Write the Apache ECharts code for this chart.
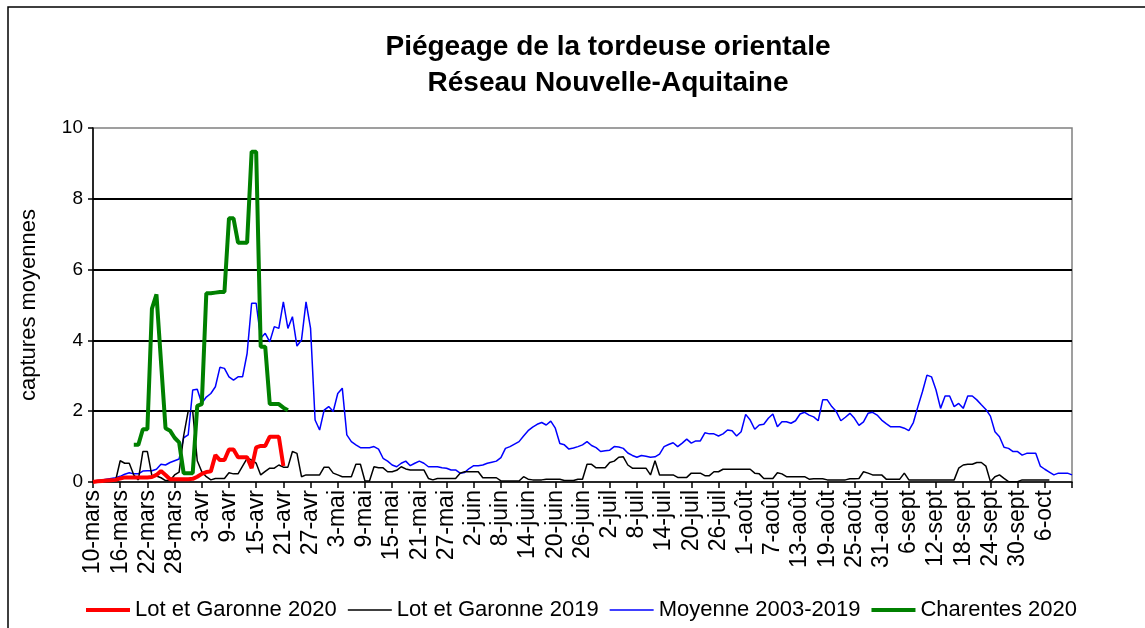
<!DOCTYPE html>
<html>
<head>
<meta charset="utf-8">
<script src="https://cdn.jsdelivr.net/npm/echarts@6/dist/echarts.min.js"></script>
<style>
html,body{margin:0;padding:0;background:#fff;}
#c{width:1145px;height:628px;}
</style>
</head>
<body>
<div id="c"></div>
<script>
// Month names and lengths used to build the daily category labels (10-mars .. 12-oct)
const months = ['mars','avr','mai','juin','juil','août','sept','oct'];
const monthDays = [31,30,31,30,31,31,30,31];
const startDay = 10;
const nDays = 217;

const seriesNames = ['Lot et Garonne 2020','Lot et Garonne 2019','Moyenne 2003-2019','Charentes 2020'];

const lotGaronne2020 = [
  0,0.02,0.03,0.04,0.05,0.06,0.1,0.13,0.13,0.13,
  0.13,0.13,0.13,0.14,0.2,0.31,0.2,0.08,0.08,0.08,
  0.08,0.08,0.09,0.15,0.23,0.28,0.3,0.76,0.62,0.62,
  0.92,0.92,0.7,0.7,0.7,0.39,0.98,1.02,1.02,1.28,
  1.28,1.28,0.45
];

const lotGaronne2019 = [
  0,0.02,0.03,0.04,0.05,0.05,0.6,0.53,0.53,0.2,
  0.06,0.86,0.86,0.17,0.17,0.12,0.04,0.04,0.2,0.28,
  1.3,2.0,2.0,0.6,0.29,0.15,0.06,0.1,0.1,0.1,
  0.26,0.23,0.23,0.45,0.67,0.62,0.53,0.2,0.3,0.39,
  0.39,0.48,0.42,0.42,0.86,0.81,0.15,0.2,0.2,0.2,
  0.2,0.42,0.42,0.25,0.2,0.15,0.15,0.15,0.5,0.5,
  0.03,0.03,0.43,0.4,0.4,0.29,0.29,0.33,0.43,0.37,
  0.34,0.34,0.34,0.34,0.1,0.06,0.1,0.1,0.1,0.1,
  0.1,0.25,0.29,0.29,0.29,0.29,0.12,0.12,0.12,0.12,
  0.03,0.03,0.03,0.03,0.03,0.15,0.08,0.06,0.06,0.06,
  0.08,0.08,0.08,0.08,0.04,0.04,0.04,0.08,0.08,0.5,
  0.5,0.4,0.4,0.4,0.55,0.59,0.7,0.71,0.48,0.39,
  0.39,0.39,0.39,0.2,0.6,0.2,0.2,0.2,0.2,0.13,
  0.13,0.13,0.25,0.25,0.25,0.18,0.18,0.29,0.29,0.36,
  0.36,0.36,0.36,0.36,0.36,0.36,0.25,0.23,0.1,0.1,
  0.1,0.26,0.23,0.15,0.15,0.15,0.15,0.15,0.08,0.09,
  0.09,0.09,0.06,0.06,0.06,0.06,0.06,0.09,0.09,0.1,
  0.29,0.25,0.2,0.2,0.2,0.08,0.08,0.08,0.08,0.25,
  0.06,0.06,0.06,0.06,0.06,0.06,0.06,0.06,0.06,0.06,
  0.06,0.39,0.48,0.5,0.5,0.55,0.55,0.45,0.01,0.15,
  0.2,0.1,0.01,0.01,0.01,0.06,0.06,0.06,0.06,0.06,
  0.06,0.06
];

const moyenne2003_2019 = [
  0.02,0.04,0.06,0.08,0.1,0.12,0.16,0.22,0.26,0.23,
  0.23,0.31,0.32,0.32,0.36,0.5,0.48,0.55,0.6,0.65,
  1.25,1.33,2.6,2.62,2.22,2.4,2.5,2.69,3.24,3.21,
  2.97,2.88,2.97,2.97,3.63,5.05,5.05,4.06,4.2,3.96,
  4.39,4.34,5.09,4.34,4.67,3.84,4.01,5.09,4.34,1.75,
  1.47,2.03,2.13,1.99,2.5,2.65,1.33,1.14,1.05,0.97,
  0.97,0.97,1.0,0.93,0.67,0.59,0.48,0.43,0.53,0.59,
  0.46,0.53,0.59,0.53,0.43,0.43,0.43,0.4,0.39,0.34,
  0.34,0.25,0.27,0.38,0.46,0.46,0.48,0.53,0.56,0.59,
  0.69,0.95,1.0,1.07,1.14,1.3,1.45,1.55,1.63,1.68,
  1.61,1.72,1.52,1.09,1.05,0.93,0.96,1.0,1.05,1.14,
  1.03,0.97,0.86,0.88,0.9,1.0,0.99,0.95,0.82,0.75,
  0.7,0.75,0.73,0.7,0.71,0.79,1.0,1.06,1.11,1.0,
  1.1,1.21,1.1,1.16,1.16,1.39,1.36,1.36,1.3,1.36,
  1.47,1.45,1.3,1.42,1.91,1.75,1.49,1.61,1.63,1.8,
  1.92,1.56,1.7,1.7,1.66,1.73,1.92,1.97,1.89,1.84,
  1.73,2.32,2.32,2.13,1.99,1.73,1.83,1.94,1.8,1.6,
  1.7,1.94,1.97,1.89,1.75,1.65,1.56,1.56,1.56,1.52,
  1.45,1.68,2.13,2.55,3.02,2.97,2.6,2.08,2.43,2.43,
  2.13,2.22,2.08,2.43,2.43,2.32,2.18,2.05,1.86,1.42,
  1.28,0.98,0.95,0.86,0.86,0.76,0.81,0.81,0.81,0.45,
  0.36,0.28,0.2,0.25,0.25,0.25,0.2
];

const charentes2020 = [
  null,null,null,null,null,null,null,null,null,
  1.05,1.05,1.49,1.49,4.9,5.3,3.4,1.52,1.45,1.25,1.12,
  0.25,0.25,0.25,2.15,2.2,5.33,5.33,5.35,5.37,5.37,
  7.45,7.45,6.76,6.76,6.76,9.33,9.33,3.82,3.82,2.2,
  2.2,2.2,2.1,2.03
];

const yTicks = [0,2,4,6,8,10];

// build daily category labels
const categories = [];
(function(){
  let m = 0, d = startDay;
  for (let i = 0; i < nDays; i++) {
    categories.push(d + '-' + months[m]);
    d++;
    if (d > monthDays[m]) { d = 1; m++; }
  }
})();

const chart = echarts.init(document.getElementById('c'), null, {renderer:'canvas'});
const FONT = 'Liberation Sans, Arial, sans-serif';
const thickIcon = 'path://M0,0L44,0L44,4L0,4Z';
const thinIcon = 'path://M0,0L44,0L44,1.6L0,1.6Z';

chart.setOption({
  animation: false,
  backgroundColor: '#ffffff',
  textStyle: {fontFamily: FONT, color:'#000'},
  title: {
    text: 'Piégeage de la tordeuse orientale\nRéseau Nouvelle-Aquitaine',
    left: 603,
    textAlign: 'center',
    top: 24,
    textStyle: {fontFamily: FONT, fontSize: 28, fontWeight: 'bold', lineHeight: 36, color:'#000'}
  },
  graphic: [{
    type: 'rect',
    shape: {x: 8, y: 7, width: 1300, height: 800},
    style: {fill: 'none', stroke: '#000', lineWidth: 1.5},
    silent: true,
    z: 100
  }],
  legend: {
    bottom: 2,
    left: 81,
    itemWidth: 44,
    itemHeight: 12,
    itemGap: 11,
    textStyle: {fontFamily: FONT, fontSize: 22, color:'#000'},
    data: [
      {name: seriesNames[0], icon: thickIcon},
      {name: seriesNames[1], icon: thinIcon},
      {name: seriesNames[2], icon: thinIcon},
      {name: seriesNames[3], icon: thickIcon}
    ]
  },
  grid: {
    left: 93, right: 73, top: 128, bottom: 146,
    show: true, borderColor: '#808080', borderWidth: 1.5, backgroundColor: 'transparent'
  },
  xAxis: {
    type: 'category',
    data: categories,
    boundaryGap: false,
    axisLine: {lineStyle: {color:'#000', width: 1.5}},
    axisTick: {show: true, interval: 5, length: 6, lineStyle: {color:'#000', width: 1.5}},
    axisLabel: {
      interval: function(i){ return i % 6 === 0 && i < nDays - 1; },
      rotate: 90, fontSize: 23, color: '#000', fontFamily: FONT, margin: 8
    },
    splitLine: {show: false}
  },
  yAxis: {
    type: 'value',
    min: yTicks[0], max: yTicks[yTicks.length-1], interval: 2,
    name: 'captures moyennes',
    nameLocation: 'middle',
    nameRotate: 90,
    nameGap: 53,
    nameTextStyle: {fontSize: 22, color:'#000', fontFamily: FONT},
    axisLine: {show: true, lineStyle: {color:'#000', width: 1.5}},
    axisTick: {show: true, length: 5, lineStyle: {color:'#000', width: 1.5}},
    axisLabel: {fontSize: 19, color:'#000', fontFamily: FONT, margin: 10},
    splitLine: {show: true, showMinLine: false, showMaxLine: false, lineStyle: {color:'#000', width: 2}}
  },
  series: [
    {name: seriesNames[0], type:'line', data: lotGaronne2020, symbol:'none', z: 4,
      lineStyle:{color:'#ff0000', width:4}, itemStyle:{color:'#ff0000'}},
    {name: seriesNames[1], type:'line', data: lotGaronne2019, symbol:'none', z: 3,
      lineStyle:{color:'#000000', width:1.5}, itemStyle:{color:'#000000'}},
    {name: seriesNames[2], type:'line', data: moyenne2003_2019, symbol:'none', z: 2,
      lineStyle:{color:'#0000ff', width:1.5}, itemStyle:{color:'#0000ff'}},
    {name: seriesNames[3], type:'line', data: charentes2020, symbol:'none', z: 5,
      lineStyle:{color:'#008000', width:4}, itemStyle:{color:'#008000'}}
  ]
});
</script>
</body>
</html>
